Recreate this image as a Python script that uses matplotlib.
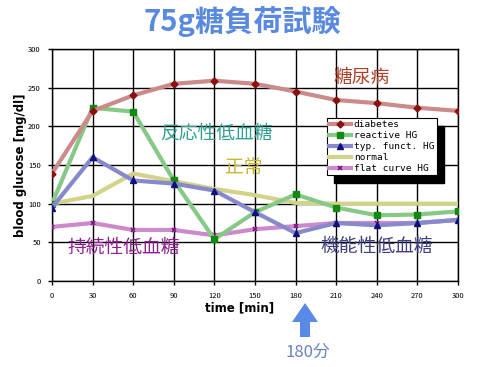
import matplotlib.pyplot as plt
from matplotlib.patches import Rectangle, Polygon

plt.rcParams['font.family'] = ['Noto Sans CJK JP', 'DejaVu Sans']

# time points [min]
times = [0, 30, 60, 90, 120, 150, 180, 210, 240, 270, 300]

diabetes = [139, 220, 240, 255, 259, 255, 245, 234, 230, 224, 220]
reactive = [100, 224, 219, 130, 54, 89, 112, 95, 85, 86, 90]
typ_funct = [95, 160, 130, 126, 117, 89, 62, 75, 72, 75, 79]
normal = [100, 110, 139, 129, 119, 111, 101, 100, 100, 100, 100]
flat_curve = [70, 75, 66, 66, 59, 67, 71, 75, 75, 75, 79]

y_ticks = [0, 50, 100, 150, 200, 250, 300]


def main():
    fig = plt.figure(figsize=(4.99, 3.67), dpi=100)
    ax = fig.add_axes([0.1042, 0.2343, 0.8136, 0.6322])

    ax.plot(times, diabetes, color='#cc8a8a', lw=3, marker='D', ms=3.5,
            mfc='#8b1010', mec='#8b1010', label='diabetes', zorder=5)
    ax.plot(times, reactive, color='#86c886', lw=3, marker='s', ms=4,
            mfc='#108a10', mec='#108a10', label='reactive HG', zorder=4)
    ax.plot(times, typ_funct, color='#8888cc', lw=3, marker='^', ms=5,
            mfc='#10107a', mec='#10107a', label='typ. funct. HG', zorder=4)
    ax.plot(times, normal, color='#d2d28a', lw=3, label='normal', zorder=3)
    ax.plot(times, flat_curve, color='#cc8acc', lw=3, marker='x', ms=3.5,
            mew=1.2, mfc='#801080', mec='#801080', label='flat curve HG', zorder=3)

    ax.set_xlim(0, 300)
    ax.set_ylim(0, 300)
    ax.set_xticks(times)
    ax.set_yticks(y_ticks)
    ax.tick_params(labelsize=5.5, length=3, width=1, direction='out', pad=5)
    ax.grid(True, color='black', lw=1)
    for s in ax.spines.values():
        s.set_color('black')
        s.set_linewidth(1)

    fig.text(21 / 499, 1 - 165 / 367, 'blood glucose [mg/dl]', fontsize=8.5,
             fontweight='bold', family='DejaVu Sans', rotation=90,
             ha='center', va='center')
    fig.text(240 / 499, 1 - 308 / 367, 'time [min]', fontsize=8.5, fontweight='bold',
             family='DejaVu Sans', ha='center', va='center')

    leg = ax.legend(loc='upper left', bbox_to_anchor=(0.677, 0.703),
                    prop={'family': 'DejaVu Sans Mono', 'size': 6.8},
                    frameon=True, fancybox=False, framealpha=1,
                    borderpad=0.25, labelspacing=0.2, handlelength=2.3,
                    handletextpad=0.3, borderaxespad=0)
    leg.get_frame().set_edgecolor('black')
    leg.get_frame().set_linewidth(0.8)
    leg.set_zorder(10)

    # shadow behind the legend box
    fig.canvas.draw()
    bb = leg.get_window_extent().transformed(fig.transFigure.inverted())
    ax.add_patch(Rectangle((bb.x0 + 7 / 499, bb.y0 - 8 / 367), bb.width, bb.height,
                           transform=fig.transFigure, color='black', zorder=9,
                           clip_on=False))

    # annotations
    labels = [
        ('糖尿病', 0.692, 0.875, '#b04028'),
        ('反応性低血糖', 0.266, 0.638, '#30a090'),
        ('正常', 0.426, 0.487, '#c8b830'),
        ('持続性低血糖', 0.039, 0.147, '#902090'),
        ('機能性低血糖', 0.66, 0.147, '#404080'),
    ]
    for txt, x, y, c in labels:
        ax.text(x, y, txt, transform=ax.transAxes, fontsize=13.5, color=c,
                ha='left', va='center', zorder=8)

    fig.text(242 / 499, 1 - 21 / 367, '75g糖負荷試験', fontsize=21, fontweight='bold',
             color='#5a8ae0', ha='center', va='center')

    # arrow at 180 min
    pts = [(305, 303), (318, 322), (310, 322), (310, 337), (300, 337), (300, 322), (292, 322)]
    arrow = Polygon([(x / 499, 1 - y / 367) for x, y in pts], closed=True,
                    transform=fig.transFigure, color='#5a8ae8', lw=0)
    fig.patches.append(arrow)
    fig.text(308 / 499, 1 - 352 / 367, '180分', fontsize=12, color='#6a80c0',
             ha='center', va='center')

    plt.savefig('out.png', dpi=100)


if __name__ == "__main__":
    main()
